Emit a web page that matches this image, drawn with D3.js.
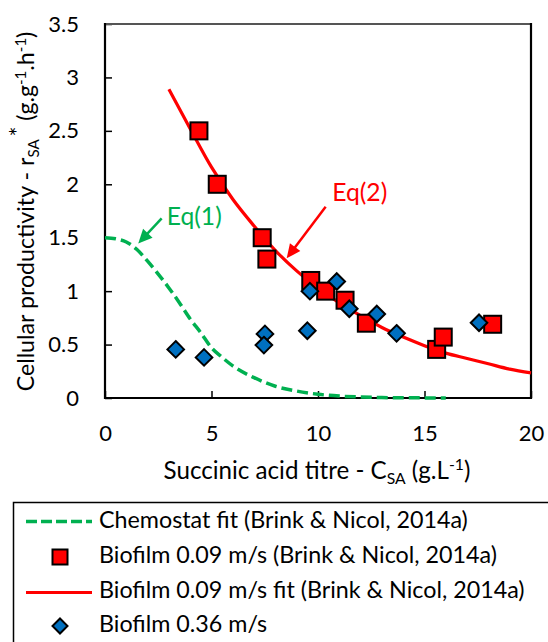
<!DOCTYPE html>
<html><head><meta charset="utf-8">
<script src="https://cdn.jsdelivr.net/npm/d3@7"></script>
<style>html,body{margin:0;padding:0;background:#fff;} svg{display:block;font-family:Lato,"Open Sans",sans-serif;}</style>
</head><body><svg id="chart" width="548" height="642"></svg>
<script>
// ---- data ----
const xTicks = [0, 5, 10, 15, 20];
const yTicks = [0, 0.5, 1, 1.5, 2, 2.5, 3, 3.5];

const chemX = [0, 0.5, 1, 1.5, 2, 2.5, 3, 3.5, 4, 4.5, 5, 5.5, 6, 7, 8, 9, 10, 11, 12, 13, 14, 15, 16];
const chemY = [1.50, 1.49, 1.46, 1.39, 1.28, 1.16, 1.03, 0.89, 0.74, 0.61, 0.47, 0.38, 0.30, 0.19, 0.11, 0.065, 0.035, 0.018, 0.009, 0.004, 0.002, 0.001, 0];

const redX = [4.41, 5.27, 7.38, 7.60, 9.66, 10.36, 11.27, 12.27, 15.57, 15.88, 18.2];
const redY = [2.50, 2.00, 1.50, 1.30, 1.10, 1.00, 0.915, 0.70, 0.455, 0.57, 0.69];

const fitX = [3, 4, 5, 6, 7, 8, 9, 10, 11, 12, 13, 14, 15, 16, 17, 18, 19, 20];
const fitY = [2.89, 2.52, 2.16, 1.86, 1.61, 1.38, 1.19, 1.03, 0.89, 0.77, 0.66, 0.57, 0.49, 0.42, 0.37, 0.32, 0.27, 0.235];

const blueX = [3.32, 4.65, 7.51, 7.46, 9.50, 9.62, 10.88, 11.47, 12.76, 13.69, 17.56];
const blueY = [0.455, 0.38, 0.60, 0.495, 0.63, 1.00, 1.09, 0.835, 0.786, 0.605, 0.704];

const seriesNames = [
  "Chemostat fit (Brink & Nicol, 2014a)",
  "Biofilm 0.09 m/s (Brink & Nicol, 2014a)",
  "Biofilm 0.09 m/s fit (Brink & Nicol, 2014a)",
  "Biofilm 0.36 m/s"
];
const annLabels = ["Eq(1)", "Eq(2)"];
const annTextX = [2.9, 10.67];
const annTextY = [1.62, 1.845];
const annTailX = [2.66, 10.36];
const annTailY = [1.68, 1.79];
const annTipX = [1.56, 8.53];
const annTipY = [1.447, 1.307];

// ---- styles ----
const GREEN = "#00B050", RED = "#FF0000", BLUE = "#0070C0";
const svg = d3.select("#chart");
const x = d3.scaleLinear().domain([0, 20]).range([105, 531]);
const y = d3.scaleLinear().domain([0, 3.5]).range([398, 24]);

function fitWidth(sel, target) {
  const w = sel.node().getComputedTextLength();
  const fs = parseFloat(sel.attr("font-size"));
  const nf = fs * target / w;
  sel.attr("font-size", nf);
  return nf;
}

// axes
const xAxis = d3.axisBottom(x).tickValues(xTicks).tickSizeInner(-7).tickSizeOuter(0).tickPadding(27).tickFormat(d => String(d));
const yAxis = d3.axisLeft(y).tickValues(yTicks).tickSizeInner(-7).tickSizeOuter(0).tickPadding(26).tickFormat(d => String(d));
const gx = svg.append("g").attr("transform", `translate(0,${y(0)})`).call(xAxis);
const gy = svg.append("g").attr("transform", `translate(${x(0)},0)`).call(yAxis);
[gx, gy].forEach(g => {
  g.select(".domain").remove();
  g.selectAll(".tick line").attr("stroke", "#000").attr("stroke-width", 1.5);
  g.selectAll(".tick text").attr("font-size", 22).attr("fill", "#000").attr("font-family", "Lato");
});

// frame
const [x0, x1] = x.range(), [y0, y1] = y.range();
svg.append("line").attr("x1", x0).attr("x2", x1).attr("y1", y1).attr("y2", y1).attr("stroke", "#555").attr("stroke-width", 2);
svg.append("line").attr("x1", x1).attr("x2", x1).attr("y1", y1 - 1).attr("y2", y0 + 1).attr("stroke", "#000").attr("stroke-width", 2.2);
svg.append("line").attr("x1", x0).attr("x2", x0).attr("y1", y1 - 1).attr("y2", y0 + 1).attr("stroke", "#000").attr("stroke-width", 2.2);
svg.append("line").attr("x1", x0 - 1).attr("x2", x1 + 1).attr("y1", y0).attr("y2", y0).attr("stroke", "#000").attr("stroke-width", 2.2);

// series
const chemData = chemX.map((v, i) => [v, chemY[i]]);
const fitData = fitX.map((v, i) => [v, fitY[i]]);
const redData = redX.map((v, i) => [v, redY[i]]);
const blueData = blueX.map((v, i) => [v, blueY[i]]);
const line = d3.line().x(d => x(d[0])).y(d => y(d[1])).curve(d3.curveMonotoneX);

svg.append("path").datum(chemData).attr("d", line).attr("fill", "none")
  .attr("stroke", GREEN).attr("stroke-width", 3.5).attr("stroke-dasharray", "11,5");
svg.append("path").datum(fitData).attr("d", line).attr("fill", "none")
  .attr("stroke", RED).attr("stroke-width", 3.2);

const SQ = 17;
svg.append("g").selectAll("rect").data(redData).join("rect")
  .attr("x", d => x(d[0]) - SQ / 2).attr("y", d => y(d[1]) - SQ / 2)
  .attr("width", SQ).attr("height", SQ)
  .attr("fill", RED).attr("stroke", "#000").attr("stroke-width", 2);

function diamond(h) { return `M0,${-h}L${h},0L0,${h}L${-h},0Z`; }
svg.append("g").selectAll("path").data(blueData).join("path")
  .attr("d", diamond(8.3))
  .attr("transform", d => `translate(${x(d[0])},${y(d[1])})`)
  .attr("fill", BLUE).attr("stroke", "#000").attr("stroke-width", 2);

// annotations
const annColors = [GREEN, RED];
annLabels.forEach((lab, i) => {
  const t = svg.append("text").attr("x", x(annTextX[i])).attr("y", y(annTextY[i]))
    .attr("font-size", 22).attr("fill", annColors[i]).text(lab);
  fitWidth(t, 55);
  const tx = x(annTailX[i]), ty = y(annTailY[i]), px = x(annTipX[i]), py = y(annTipY[i]);
  const dx = px - tx, dy = py - ty, len = Math.hypot(dx, dy);
  const ux = dx / len, uy = dy / len, nx = -uy, ny = ux;
  const L = 14, Wd = 6.5;
  const bx = px - ux * L, by = py - uy * L;
  svg.append("line").attr("x1", tx).attr("y1", ty).attr("x2", bx + ux * 2).attr("y2", by + uy * 2)
    .attr("stroke", annColors[i]).attr("stroke-width", 2.5);
  svg.append("path").attr("d", `M${px},${py}L${bx + nx * Wd},${by + ny * Wd}L${bx - nx * Wd},${by - ny * Wd}Z`)
    .attr("fill", annColors[i]);
});

// x title
const xt = svg.append("text").attr("x", (x0 + x1) / 2 - 1).attr("y", 479).attr("text-anchor", "middle")
  .attr("font-size", 22).attr("fill", "#000");
xt.append("tspan").text("Succinic acid titre - C");
xt.append("tspan").attr("font-size", "0.65em").attr("dy", "0.3em").text("SA");
xt.append("tspan").attr("dy", "-0.195em").text(" (g.L");
xt.append("tspan").attr("font-size", "0.65em").attr("dy", "-0.55em").text("-1");
xt.append("tspan").attr("dy", "0.36em").text(")");
fitWidth(xt, 307);

// y title
const yt = svg.append("text").attr("transform", "translate(34,211.5) rotate(-90)").attr("text-anchor", "middle")
  .attr("font-size", 22).attr("fill", "#000");
yt.append("tspan").text("Cellular productivity - r");
yt.append("tspan").attr("font-size", "0.65em").attr("dy", "0.3em").text("SA");
yt.append("tspan").attr("dx", "0.12em").attr("dy", "-0.55em").text("*");
yt.append("tspan").attr("dy", "0.355em").text(" (g.g");
yt.append("tspan").attr("font-size", "0.65em").attr("dy", "-0.55em").text("-1");
yt.append("tspan").attr("dy", "0.36em").text(".h");
yt.append("tspan").attr("font-size", "0.65em").attr("dy", "-0.55em").text("-1");
yt.append("tspan").attr("dy", "0.36em").text(")");
fitWidth(yt, 357);

// legend
const lg = svg.append("g");
lg.append("rect").attr("x", 13.5).attr("y", 502.5).attr("width", 600).attr("height", 200)
  .attr("fill", "#fff").attr("stroke", "#000").attr("stroke-width", 1.5);
const rowBase = [528, 563, 598, 632];
const texts = seriesNames.map((n, i) => lg.append("text").attr("x", 99).attr("y", rowBase[i])
  .attr("font-size", 22).attr("fill", "#000").text(n));
const lfs = fitWidth(texts[0], 369);
texts.forEach(t => t.attr("font-size", lfs));
lg.append("line").attr("x1", 26).attr("x2", 92).attr("y1", rowBase[0] - 6.5).attr("y2", rowBase[0] - 6.5)
  .attr("stroke", GREEN).attr("stroke-width", 3.5).attr("stroke-dasharray", "11,4");
lg.append("rect").attr("x", 60 - 7.5).attr("y", rowBase[1] - 6 - 7.5).attr("width", 15).attr("height", 15)
  .attr("fill", RED).attr("stroke", "#000").attr("stroke-width", 2);
lg.append("line").attr("x1", 26).attr("x2", 92).attr("y1", rowBase[2] - 5.5).attr("y2", rowBase[2] - 5.5)
  .attr("stroke", RED).attr("stroke-width", 3.2);
lg.append("path").attr("d", diamond(7.5)).attr("transform", `translate(60,${rowBase[3] - 6})`)
  .attr("fill", BLUE).attr("stroke", "#000").attr("stroke-width", 2);
</script></body></html>
